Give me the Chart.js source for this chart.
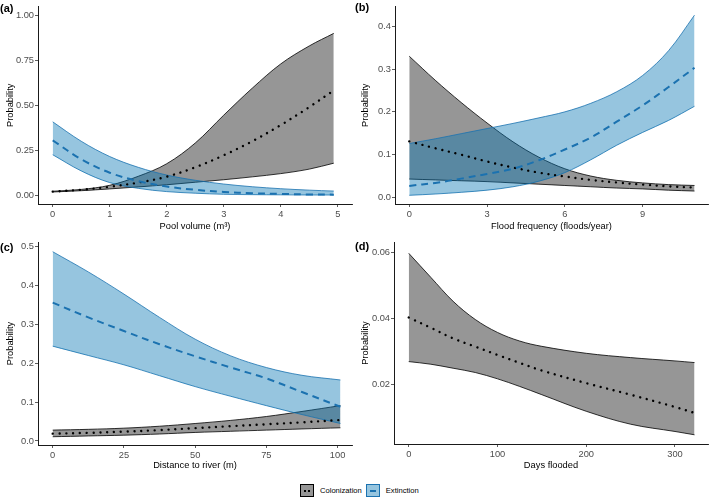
<!DOCTYPE html>
<html>
<head>
<meta charset="utf-8">
<script src="https://cdn.jsdelivr.net/npm/chart.js@4.4.1/dist/chart.umd.min.js"></script>
<style>
  html, body { margin: 0; padding: 0; background: #fff; }
  body { width: 709px; height: 498px; position: relative; overflow: hidden;
         font-family: 'Liberation Sans', Arial, sans-serif; }
  canvas { position: absolute; }
  .tag { position: absolute; font-weight: bold; font-size: 11px; line-height: 12px; color: #000; }
  .legend { position: absolute; left: 300px; top: 484px; display: flex; align-items: center;
            font-size: 7.6px; color: #000; }
  .key { position: relative; width: 14px; height: 13px; box-sizing: border-box; }
  .key .mark { position: absolute; left: 3px; right: 3px; top: 5px; }
  .legend span { margin: 0 4px 0 6px; }
</style>
</head>
<body>
<canvas id="pA" width="355" height="232" style="left:0;top:0"></canvas>
<canvas id="pB" width="354" height="232" style="left:355px;top:0"></canvas>
<canvas id="pC" width="355" height="236" style="left:0;top:235px"></canvas>
<canvas id="pD" width="354" height="236" style="left:355px;top:235px"></canvas>

<div class="tag" style="left:0;top:2px">(a)</div>
<div class="tag" style="left:355px;top:1px">(b)</div>
<div class="tag" style="left:0;top:241px">(c)</div>
<div class="tag" style="left:355px;top:240px">(d)</div>

<div class="legend">
  <div class="key" style="background:#969696;border:1px solid #000">
    <div class="mark" style="border-top:2px dotted #000"></div>
  </div>
  <span>Colonization</span>
  <div class="key" style="background:#96c5df;border:1px solid #1b72b0">
    <div class="mark" style="border-top:2px solid #1b72b0"></div>
  </div>
  <span>Extinction</span>
</div>

<script>
// (a) pool volume
const poolX      = [0, 0.5, 1, 1.5, 2, 2.5, 3, 3.5, 4, 4.5, 4.93];
const poolColLo  = [0.018, 0.025, 0.035, 0.046, 0.058, 0.072, 0.086, 0.102, 0.12, 0.145, 0.178];
const poolColMid = [0.02, 0.03, 0.047, 0.07, 0.103, 0.155, 0.222, 0.3, 0.39, 0.49, 0.583];
const poolColHi  = [0.022, 0.032, 0.055, 0.105, 0.175, 0.29, 0.445, 0.595, 0.73, 0.83, 0.9];
const poolExtLo  = [0.225, 0.135, 0.07, 0.038, 0.02, 0.011, 0.005, 0.003, 0.002, 0.001, 0.001];
const poolExtMid = [0.305, 0.2, 0.125, 0.078, 0.048, 0.03, 0.018, 0.011, 0.007, 0.004, 0.003];
const poolExtHi  = [0.408, 0.3, 0.215, 0.155, 0.112, 0.083, 0.062, 0.047, 0.036, 0.028, 0.023];
const poolXTicks = [0, 1, 2, 3, 4, 5];
const poolYTicks = [0, 0.25, 0.5, 0.75, 1];

// (b) flood frequency
const floodX      = [0, 1, 2, 3, 4, 5, 6, 7, 8, 9, 10, 11];
const floodColLo  = [0.043, 0.041, 0.039, 0.037, 0.034, 0.031, 0.028, 0.025, 0.022, 0.02, 0.017, 0.015];
const floodColMid = [0.131, 0.115, 0.1, 0.084, 0.07, 0.058, 0.049, 0.041, 0.035, 0.03, 0.026, 0.023];
const floodColHi  = [0.33, 0.274, 0.222, 0.174, 0.13, 0.094, 0.067, 0.05, 0.04, 0.034, 0.03, 0.028];
const floodExtLo  = [0.005, 0.008, 0.012, 0.017, 0.025, 0.038, 0.058, 0.088, 0.122, 0.152, 0.18, 0.213];
const floodExtMid = [0.027, 0.034, 0.044, 0.055, 0.067, 0.087, 0.112, 0.14, 0.177, 0.215, 0.258, 0.303];
const floodExtHi  = [0.126, 0.137, 0.149, 0.161, 0.173, 0.186, 0.2, 0.22, 0.247, 0.285, 0.343, 0.426];
const floodXTicks = [0, 3, 6, 9];
const floodYTicks = [0, 0.1, 0.2, 0.3, 0.4];

// (c) distance to river
const distX      = [0, 12.5, 25, 37.5, 50, 62.5, 75, 87.5, 101];
const distColLo  = [0.011, 0.013, 0.015, 0.018, 0.022, 0.025, 0.028, 0.031, 0.034];
const distColMid = [0.019, 0.021, 0.024, 0.028, 0.033, 0.038, 0.043, 0.048, 0.054];
const distColHi  = [0.028, 0.03, 0.033, 0.038, 0.045, 0.053, 0.063, 0.076, 0.091];
const distExtLo  = [0.244, 0.22, 0.196, 0.168, 0.14, 0.115, 0.091, 0.068, 0.045];
const distExtMid = [0.356, 0.318, 0.283, 0.249, 0.218, 0.189, 0.161, 0.126, 0.088];
const distExtHi  = [0.487, 0.435, 0.378, 0.318, 0.262, 0.219, 0.189, 0.169, 0.157];
const distXTicks = [0, 25, 50, 75, 100];
const distYTicks = [0, 0.1, 0.2, 0.3, 0.4, 0.5];

// (d) days flooded (colonization only)
const daysX      = [0, 25, 50, 75, 100, 125, 150, 200, 250, 300, 322];
const daysColLo  = [0.027, 0.0262, 0.025, 0.0237, 0.0218, 0.0195, 0.017, 0.012, 0.0081, 0.0059, 0.0049];
const daysColMid = [0.0403, 0.0372, 0.034, 0.0315, 0.029, 0.0266, 0.0243, 0.0205, 0.017, 0.0133, 0.0115];
const daysColHi  = [0.0597, 0.0524, 0.0452, 0.0397, 0.0358, 0.0332, 0.0316, 0.0295, 0.0282, 0.0272, 0.0267];
const daysXTicks = [0, 100, 200, 300];
const daysYTicks = [0.02, 0.04, 0.06];

const FONT = "'Liberation Sans', Arial, sans-serif";
const COL_FILL = "rgba(0,0,0,0.41)";
const EXT_FILL = "rgba(0,114,178,0.41)";
const EXT_LINE = "#1b72b0";
const TENSION = 0.35;

const pts = (xs, ys) => xs.map((x, i) => ({ x: x, y: ys[i] }));

function bandEdge(xs, ys, color, fill, order) {
  return {
    data: pts(xs, ys),
    borderColor: color,
    borderWidth: 0.8,
    backgroundColor: fill || "transparent",
    fill: fill ? "+1" : false,
    pointRadius: 0,
    tension: TENSION,
    order: order
  };
}

function colonization(xs, lo, mid, hi) {
  return [
    bandEdge(xs, hi, "#000", COL_FILL, 3),
    bandEdge(xs, lo, "#000", null, 3),
    {
      data: pts(xs, mid), borderColor: "#000", borderWidth: 2.4,
      borderDash: [0.01, 6.8], borderCapStyle: "round",
      pointRadius: 0, tension: TENSION, fill: false, order: 1
    }
  ];
}

function extinction(xs, lo, mid, hi) {
  return [
    bandEdge(xs, hi, EXT_LINE, EXT_FILL, 2),
    bandEdge(xs, lo, EXT_LINE, null, 2),
    {
      data: pts(xs, mid), borderColor: EXT_LINE, borderWidth: 2,
      borderDash: [7, 5], pointRadius: 0,
      tension: TENSION, fill: false, order: 0
    }
  ];
}

function axis(min, max, tickVals, decimals, title, fixed, horizontal, titlePad) {
  return {
    type: "linear",
    min: min,
    max: max,
    afterBuildTicks: (s) => { s.ticks = tickVals.map(v => ({ value: v })); },
    afterFit: (s) => { if (horizontal) s.height = fixed; else s.width = fixed; },
    ticks: {
      autoSkip: false, maxRotation: 0, color: "#4d4d4d", padding: horizontal ? 1.5 : 1,
      font: { family: FONT, size: 9.3 },
      callback: (v) => Number(v).toFixed(decimals)
    },
    grid: { display: true, drawOnChartArea: false, drawTicks: true, tickLength: 3,
            color: "#333", lineWidth: 0.8 },
    border: { display: true, color: "#1a1a1a", width: 1 },
    title: { display: true, text: title, color: "#000",
             font: { family: FONT, size: 9.3 }, padding: { top: titlePad, bottom: 0 } }
  };
}

function panel(id, datasets, x, y, pad) {
  new Chart(document.getElementById(id), {
    type: "line",
    data: { datasets: datasets },
    options: {
      responsive: false,
      animation: false,
      devicePixelRatio: 1,
      layout: { padding: pad },
      plugins: { legend: { display: false }, tooltip: { enabled: false } },
      scales: { x: x, y: y }
    }
  });
}

panel("pA",
  colonization(poolX, poolColLo, poolColMid, poolColHi)
    .concat(extinction(poolX, poolExtLo, poolExtMid, poolExtHi)),
  axis(-0.258, 5.25, poolXTicks, 0, "Pool volume (m³)", 28, true, 0),
  axis(-0.049, 1.049, poolYTicks, 2, "Probability", 38, false, 4.4),
  { top: 2, right: 3, left: 0, bottom: 0 });

panel("pB",
  colonization(floodX, floodColLo, floodColMid, floodColHi)
    .concat(extinction(floodX, floodExtLo, floodExtMid, floodExtHi)),
  axis(-0.55, 11.52, floodXTicks, 0, "Flood frequency (floods/year)", 28, true, 0),
  axis(-0.0153, 0.446, floodYTicks, 1, "Probability", 40, false, 5.2),
  { top: 2, right: 1, left: 0, bottom: 0 });

panel("pC",
  colonization(distX, distColLo, distColMid, distColHi)
    .concat(extinction(distX, distExtLo, distExtMid, distExtHi)),
  axis(-5.16, 105.06, distXTicks, 0, "Distance to river (m)", 26, true, 0),
  axis(-0.0103, 0.512, distYTicks, 1, "Probability", 38, false, 4.4),
  { top: 7, right: 3, left: 0, bottom: 0 });

panel("pD",
  colonization(daysX, daysColLo, daysColMid, daysColHi),
  axis(-16.6, 337.2, daysXTicks, 0, "Days flooded", 27, true, 0),
  axis(0.00212, 0.0631, daysYTicks, 2, "Probability", 39, false, 5.2),
  { top: 7, right: 1, left: 0, bottom: 0 });
</script>
</body>
</html>
